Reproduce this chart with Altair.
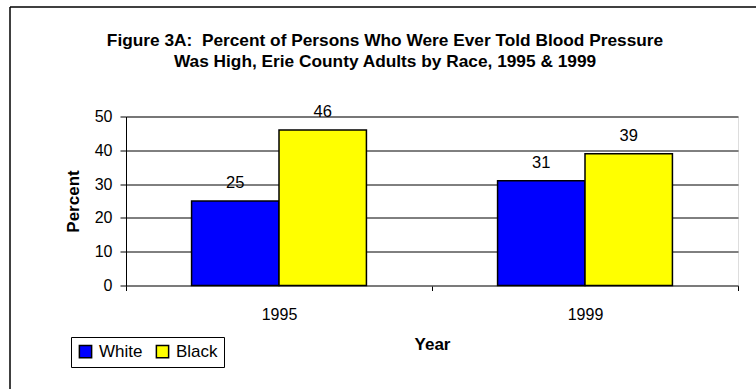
import altair as alt
import pandas as pd

# Survey results: percent ever told blood pressure was high, by race and year
years = ["1995", "1999"]
races = ["White", "Black"]
white_pct = [25, 31]
black_pct = [46, 39]
race_colors = ["#0000FF", "#FFFF00"]

title_lines = [
    "Figure 3A:\u00a0 Percent of Persons Who Were Ever Told Blood Pressure",
    "Was High, Erie County Adults by Race, 1995 & 1999",
]
y_ticks = [0, 10, 20, 30, 40, 50]

rows = []
for i, yr in enumerate(years):
    rows.append({"Year": yr, "Race": "White", "Percent": white_pct[i]})
    rows.append({"Year": yr, "Race": "Black", "Percent": black_pct[i]})
df = pd.DataFrame(rows)

FONT = "Liberation Sans"
W, H = 612, 169

x_enc = alt.X(
    "Year:N",
    sort=years,
    scale=alt.Scale(paddingInner=0, paddingOuter=0),
    axis=alt.Axis(
        title="Year",
        labelAngle=0,
        tickBand="extent",
        tickSize=5,
        tickColor="#000000",
        domainColor="#808080",
        domainWidth=1,
        labelFont=FONT,
        labelFontSize=16,
        labelColor="#000000",
        labelBaseline="alphabetic",
        labelPadding=28.5,
        titleFont=FONT,
        titleFontSize=17,
        titleFontWeight="bold",
        titleColor="#000000",
        titleX=W / 2,
        titleY=63.5,
        titleAlign="center",
        titleBaseline="alphabetic",
    ),
)
xo_enc = alt.XOffset(
    "Race:N", sort=races, scale=alt.Scale(paddingInner=0, paddingOuter=0.75)
)
y_enc = alt.Y(
    "Percent:Q",
    scale=alt.Scale(domain=[0, 50], nice=False),
    axis=alt.Axis(
        title="Percent",
        values=y_ticks,
        grid=True,
        gridColor="#000000",
        gridWidth=1,
        domainColor="#000000",
        tickColor="#000000",
        tickSize=6,
        labelFont=FONT,
        labelFontSize=16,
        labelColor="#000000",
        labelPadding=8,
        titleFont=FONT,
        titleFontSize=17,
        titleFontWeight="bold",
        titleColor="#000000",
        titleAngle=270,
        titleX=-53,
        titleY=H / 2,
        titleAlign="center",
        titleBaseline="middle",
    ),
)

bars = alt.Chart(df).mark_bar(stroke="#000000", strokeWidth=1.5).encode(
    x=x_enc,
    xOffset=xo_enc,
    y=y_enc,
    color=alt.Color(
        "Race:N",
        sort=races,
        scale=alt.Scale(domain=races, range=race_colors),
        legend=alt.Legend(
            title=None,
            orient="none",
            legendX=-55,
            legendY=220.5,
            direction="horizontal",
            fillColor="#FFFFFF",
            strokeColor="#000000",
            padding=6,
            symbolType="square",
            symbolSize=150,
            symbolStrokeColor="#000000",
            symbolStrokeWidth=1.5,
            symbolOpacity=1,
            labelFont=FONT,
            labelFontSize=17,
            labelColor="#000000",
            labelOffset=5,
            columnPadding=10,
        ),
    ),
)

labels = alt.Chart(df).mark_text(
    baseline="alphabetic", dy=-13, font=FONT, fontSize=16.5, color="#000000"
).encode(x=x_enc, xOffset=xo_enc, y=y_enc, text="Percent:Q")

title_df = pd.DataFrame({"k": [0]})
title = alt.Chart(title_df).mark_text(
    text=title_lines,
    font=FONT,
    fontSize=17.3,
    fontWeight="bold",
    color="#000000",
    align="center",
    baseline="alphabetic",
    lineHeight=20.5,
).encode(x=alt.value(259), y=alt.value(-70.5))

# chart-area frame (top and left edges)
frame_top = alt.Chart(title_df).mark_rule(color="#000000", strokeWidth=1.5).encode(
    x=alt.value(-116), x2=alt.value(640), y=alt.value(-109.5)
)
frame_left = alt.Chart(title_df).mark_rule(color="#000000", strokeWidth=1.5).encode(
    x=alt.value(-116), y=alt.value(-109.5), y2=alt.value(280)
)

chart = (
    alt.layer(bars, labels, title, frame_top, frame_left)
    .properties(
        width=W,
        height=H,
        autosize=alt.AutoSizeParams(type="none"),
        padding={"left": 126, "top": 116.5, "right": 18, "bottom": 103.5},
    )
    .configure_view(strokeWidth=0)
    .configure(background="#FFFFFF")
)

chart.save("out.html", embed_options={"renderer": "svg", "actions": False})
